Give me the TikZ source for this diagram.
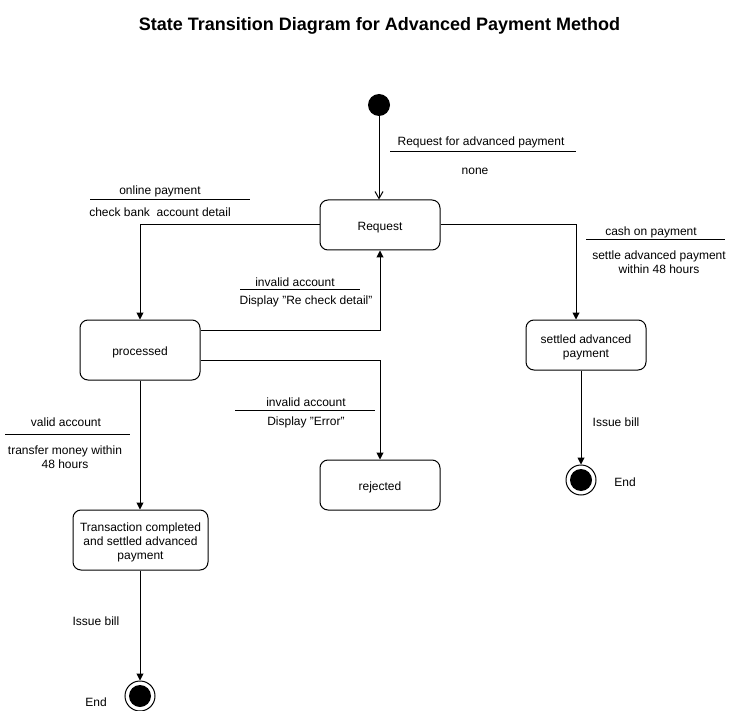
\documentclass[tikz,border=0pt]{standalone}
\usepackage{fontspec}
\setmainfont{Liberation Sans}
\usetikzlibrary{arrows.meta}
\newcommand\boxtxt[1]{\raisebox{-2.5pt}[\height][\depth]{\begin{tabular}{@{}c@{}}#1\end{tabular}}}
\begin{document}
\begin{tikzpicture}[x=1pt,y=-1pt,
  every node/.style={font=\fontsize{12}{14}\selectfont, inner sep=0pt},
  stbox/.style={draw, line width=1pt, rounded corners=8pt, align=center},
  conn/.style={line width=1pt, -{Triangle[length=7pt,width=7pt]}},
  openconn/.style={line width=1pt, -{Straight Barb[length=7pt,width=8pt]}},
  guard/.style={line width=1pt},
  lbl/.style={align=center, yshift=-1.5pt}]
\useasboundingbox (0,0) rectangle (736,711);
% title
\node[font=\bfseries\fontsize{18}{21}\selectfont] (title) at (379.5,26) {State Transition Diagram for Advanced Payment Method};
% start
\node[circle, fill=black, minimum size=22pt] (start) at (379,105) {};
% states
\node[stbox, minimum width=120pt, minimum height=50pt] (request) at (380,225) {\boxtxt{Request}};
\node[stbox, minimum width=120pt, minimum height=60pt] (processed) at (140,350) {\boxtxt{processed}};
\node[stbox, minimum width=120pt, minimum height=50pt] (rejected) at (380,485) {\boxtxt{rejected}};
\node[stbox, minimum width=120pt, minimum height=50pt] (settled) at (586,345) {\boxtxt{settled advanced\\payment}};
\node[stbox, minimum width=135pt, minimum height=60pt] (trans) at (140.5,540) {\boxtxt{Transaction completed\\and settled advanced\\payment}};
% end states
\node[circle, draw, line width=1pt, minimum size=30pt] (endA) at (140,696) {};
\node[circle, fill=black, minimum size=22pt] at (endA.center) {};
\node[circle, draw, line width=1pt, minimum size=30pt] (endB) at (581,480) {};
\node[circle, fill=black, minimum size=22pt] at (endB.center) {};
% connectors
\draw[openconn] (start.south) -- (start.south |- request.north);
\draw[conn] (request.west) -| (processed.north);
\draw[conn] ([yshift=20pt]processed.east) -| (request.south);
\draw[conn] ([yshift=-10pt]processed.east) -| (rejected.north);
\draw[conn] (request.east) -| ([xshift=-10pt]settled.north);
\draw[conn] (settled.south -| endB) -- (endB.north);
\draw[conn] (processed.south) -- (processed.south |- trans.north);
\draw[conn] (trans.south -| endA) -- (endA.north);
% labels
\node[lbl] (l1a) at (481,141) {Request for advanced payment};
\draw[guard] (390,152) -- (576,152);
\node[lbl] (l1b) at (475,170) {none};
\node[lbl] (l2a) at (160,190) {online payment};
\draw[guard] (90,200) -- (250,200);
\node[lbl] (l2b) at (160,211) {check bank\ \ account detail};
\node[lbl] (l3a) at (295,281) {invalid account};
\draw[guard] (240,290) -- (360,290);
\node[lbl] (l3b) at (306,300) {Display "Re check detail"};
\node[lbl] (l4a) at (306,401) {invalid account};
\draw[guard] (235,410) -- (375,410);
\node[lbl] (l4b) at (306,421) {Display "Error"};
\node[lbl] (l5a) at (651,231) {cash on payment};
\draw[guard] (586,240) -- (725,240);
\node[lbl] (l5b) at (659,260.5) {settle advanced payment\\within 48 hours};
\node[lbl] (l6) at (616,421) {Issue bill};
\node[lbl] (l7) at (625,481) {End};
\node[lbl] (l8a) at (66,421) {valid account};
\draw[guard] (5,434) -- (130,434);
\node[lbl] (l8b) at (65,456) {transfer money within\\48 hours};
\node[lbl] (l9) at (96,620) {Issue bill};
\node[lbl] (l10) at (96,701) {End};
\end{tikzpicture}
\end{document}
